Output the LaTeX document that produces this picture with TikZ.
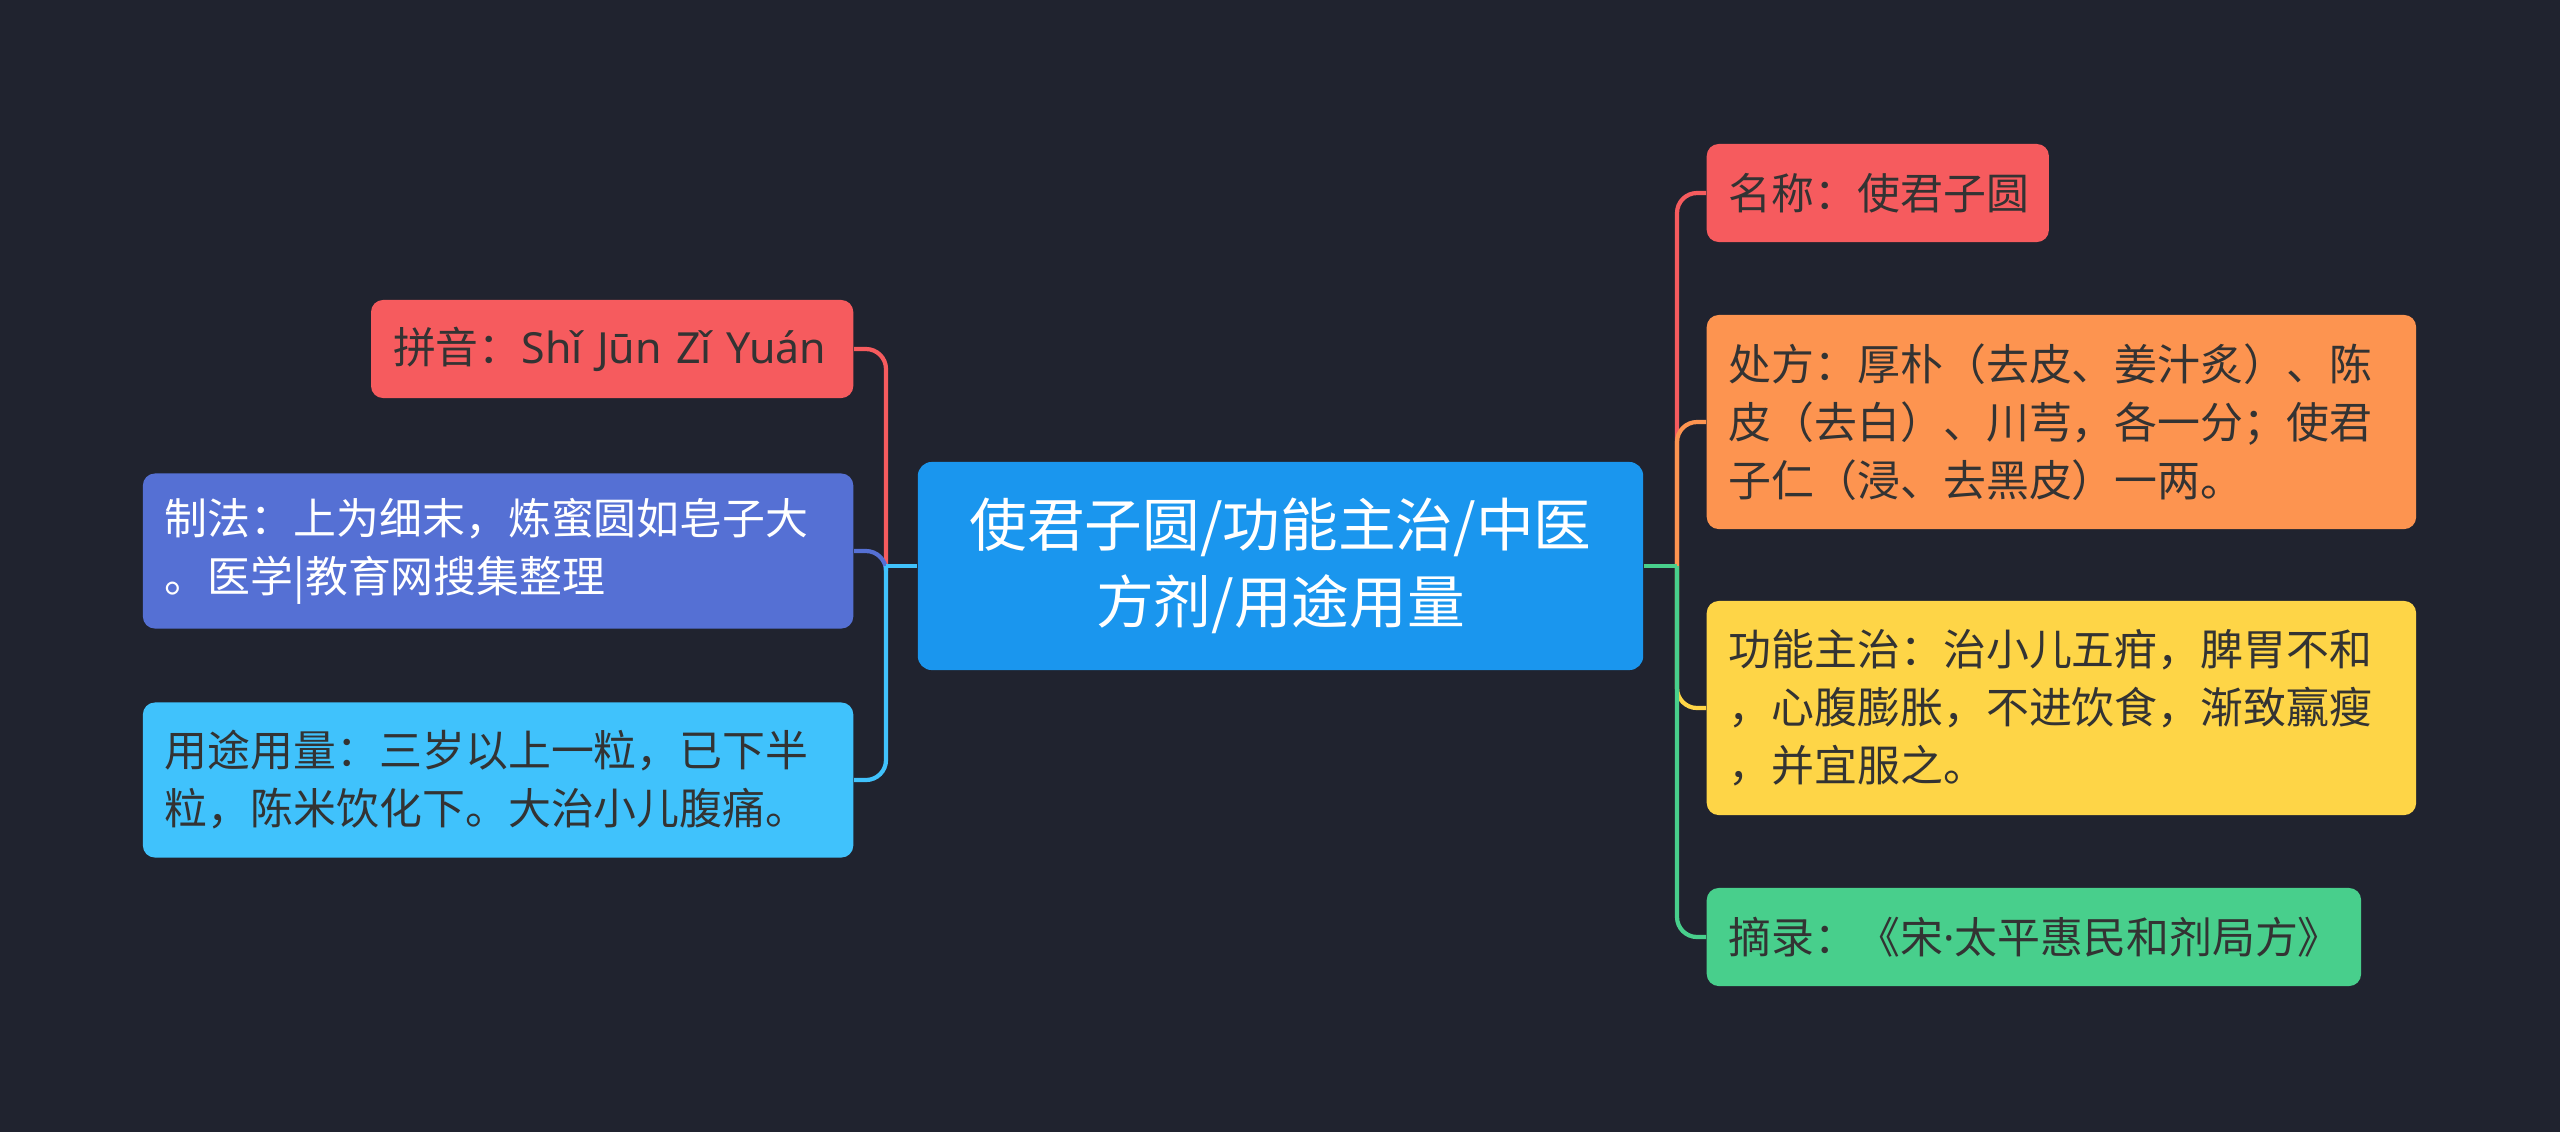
\documentclass[tikz,border=0pt]{standalone}
\usepackage{fontspec}
\setmainfont{Noto Sans CJK SC}
\newfontfamily\latinfont{Noto Sans}
\definecolor{bgdark}{HTML}{20232F}
\definecolor{cCenter}{HTML}{1A96EE}
\definecolor{cRed}{HTML}{F65B5E}
\definecolor{cIndigo}{HTML}{5570D4}
\definecolor{cSky}{HTML}{40C2FC}
\definecolor{cOrange}{HTML}{FD9450}
\definecolor{cYellow}{HTML}{FED547}
\definecolor{cGreen}{HTML}{48CF8C}
\definecolor{txtdark}{HTML}{333333}

\begin{document}
\begin{tikzpicture}[x=0.01cm,y=-0.01cm,
  leaf/.style={rounded corners=0.12cm, inner xsep=0.22cm, inner ysep=0pt, align=left,
    font=\fontsize{12.2pt}{16.5pt}\selectfont, text=txtdark},
  root/.style={rounded corners=0.14cm, fill=cCenter, text=white, align=center,
    inner sep=0pt, font=\fontsize{16.4pt}{22pt}\selectfont},
  link/.style={line width=1.2pt},
  elbow/.style={line width=1.2pt, rounded corners=0.2cm}]
\fill[bgdark] (0,0) rectangle (2560,1132);
\useasboundingbox (0,0) rectangle (2560,1132);

\node[root, text width=7.25cm, minimum height=2.08cm] (hub) at (1280.5,566)
  {使君子圆/功能主治/中医\\方剂/用途用量};

\node[leaf, fill=cRed, anchor=east, text width=4.38cm, minimum height=0.98cm] (pinyin) at (854,349)
  {\mbox{拼音：{\latinfont Shǐ Jūn Zǐ Yuán}}};
\node[leaf, fill=cIndigo, text=white, anchor=east, text width=6.66cm, minimum height=1.55cm] (method) at (854,551)
  {制法：上为细末，炼蜜圆如皂子大\\。医学|教育网搜集整理};
\node[leaf, fill=cSky, anchor=east, text width=6.66cm, minimum height=1.55cm] (usage) at (854,780)
  {用途用量：三岁以上一粒，已下半\\粒，陈米饮化下。大治小儿腹痛。};

\node[leaf, fill=cRed, anchor=west, text width=2.98cm, minimum height=0.98cm] (name) at (1706,193)
  {名称：使君子圆};
\node[leaf, fill=cOrange, anchor=west, text width=6.65cm, minimum height=2.14cm] (recipe) at (1706,422)
  {处方：厚朴（去皮、姜汁炙）、陈\\皮（去白）、川芎，各一分；使君\\子仁（浸、去黑皮）一两。};
\node[leaf, fill=cYellow, anchor=west, text width=6.65cm, minimum height=2.14cm] (effect) at (1706,708)
  {功能主治：治小儿五疳，脾胃不和\\，心腹膨胀，不进饮食，渐致羸瘦\\，并宜服之。};
\node[leaf, fill=cGreen, anchor=west, text width=6.10cm, minimum height=0.98cm] (source) at (1706,937)
  {\mbox{摘录：《宋{\latinfont ·}太平惠民和剂局方》}};

\coordinate (jl) at (886,566);
\coordinate (jr) at (1677,566);

\draw[elbow, cRed] (jl) |- (pinyin.east);
\draw[elbow, cIndigo] (jl) |- (method.east);
\draw[elbow, cSky] (jl) |- (usage.east);
\draw[link, cSky] (hub.west) -- (jl);

\draw[elbow, cRed] (jr) |- (name.west);
\draw[elbow, cOrange] (jr) |- (recipe.west);
\draw[elbow, cYellow] (jr) |- (effect.west);
\draw[elbow, cGreen] (jr) |- (source.west);
\draw[link, cGreen] (hub.east) -- (jr);
\end{tikzpicture}
\end{document}
